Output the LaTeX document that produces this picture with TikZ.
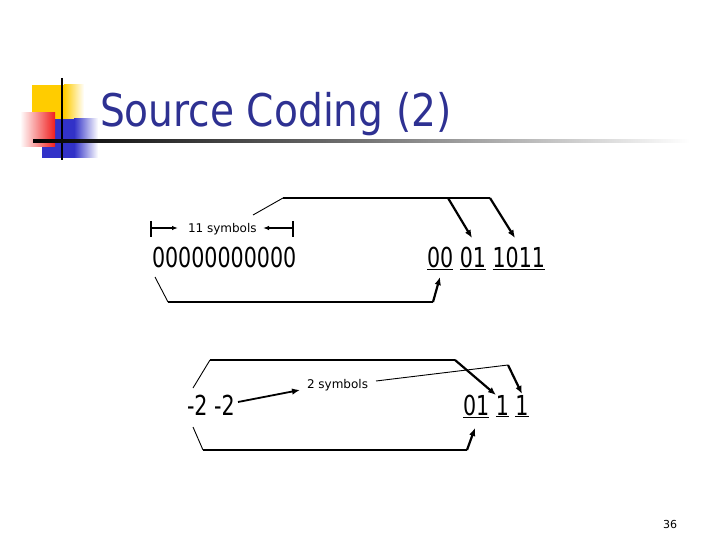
\documentclass[tikz,border=0pt]{standalone}
\usepackage{fontspec}
\setmainfont{DejaVu Sans}
\usetikzlibrary{arrows.meta}
\definecolor{titleblue}{RGB}{46,49,146}
\definecolor{sqyellow}{RGB}{255,204,0}
\definecolor{sqred}{RGB}{240,30,30}
\definecolor{sqblue}{RGB}{50,50,200}
\newcommand{\bigdigits}[1]{\scalebox{0.75}[1]{\fontsize{27.5}{30}\selectfont #1}}
\begin{document}
\begin{tikzpicture}[x=1pt,y=-1pt,
  txt/.style={inner sep=0pt, outer sep=0pt, anchor=base west},
  fineline/.style={line width=0.9pt},
  linkline/.style={line width=1.4pt},
  bigarrow/.style={line width=2.2pt, -{Latex[length=8pt,width=6.5pt]}},
  smallarrow/.style={line width=1.4pt, -{Latex[length=6pt,width=4.5pt]}},
]
\useasboundingbox (0,0) rectangle (720,540);
% --- title decoration ---
\fill[sqyellow] (32,85) rectangle (64,122);
\shade[left color=sqyellow, right color=white] (64,85) rectangle (84,122);
\fill[sqblue] (42,119) rectangle (74,158);
\shade[left color=sqblue, right color=white] (74,119) rectangle (98,158);
\shade[left color=white, right color=sqred] (20,113) rectangle (55,147);
\draw[line width=2pt] (62,78) -- (62,160);
\shade[left color=black, right color=black!55] (33,140) rectangle (360,142.5);
\shade[left color=black!55, right color=white] (360,140) rectangle (690,142.5);
\node[txt, text=titleblue] (title) at (100,127) {\scalebox{0.87}[1]{\fontsize{45}{50}\selectfont Source Coding (2)}};
% --- row 1 ---
\node[txt] (zeros) at (152,267) {\bigdigits{00000000000}};
\node[txt] (code1) at (427,267) {\bigdigits{\underline{00} \underline{01} \underline{1011}}};
\node[txt] (eleven) at (188,233) {\fontsize{12}{14}\selectfont 11 symbols};
\coordinate (lt1) at (151,221); \coordinate (lt2) at (151,237);
\coordinate (rt1) at (293,221); \coordinate (rt2) at (293,237);
\coordinate (la) at (151,228); \coordinate (lb) at (178,228);
\coordinate (ra) at (293,228); \coordinate (rb) at (263,228);
\draw[linkline] (lt1) -- (lt2);
\draw[linkline] (rt1) -- (rt2);
\draw[smallarrow] (la) -- (lb);
\draw[smallarrow] (ra) -- (rb);
\coordinate (a0) at (253,215);
\coordinate (a1) at (283,198);
\coordinate (a2) at (448,198);
\coordinate (a3) at (490,198);
\coordinate (t1) at (472,238);
\coordinate (t2) at (515,238);
\draw[fineline] (a0) -- (a1);
\draw[linkline] (a1) -- (a3);
\draw[bigarrow] (a2) -- (t1);
\draw[bigarrow] (a3) -- (t2);
\coordinate (b0) at (155,277);
\coordinate (b1) at (168,302);
\coordinate (b2) at (433,302);
\coordinate (b3) at (440,277);
\draw[fineline] (b0) -- (b1);
\draw[linkline] (b1) -- (b2);
\draw[bigarrow] (b2) -- (b3);
% --- row 2 ---
\node[txt] (minus) at (187,415) {\bigdigits{-2 -2}};
\node[txt] (code2) at (463,415) {\bigdigits{\underline{01} \underline{1} \underline{1}}};
\node[txt] (two) at (307,388) {\fontsize{12}{14}\selectfont 2 symbols};
\coordinate (m0) at (238,402);
\coordinate (m1) at (300,390);
\draw[bigarrow, line width=1.8pt] (m0) -- (m1);
\coordinate (c0) at (193,388);
\coordinate (c1) at (210,360);
\coordinate (c2) at (455,360);
\coordinate (u1) at (496,395);
\draw[fineline] (c0) -- (c1);
\draw[linkline] (c1) -- (c2);
\draw[bigarrow] (c2) -- (u1);
\coordinate (d0) at (376,381);
\coordinate (d1) at (508,365);
\coordinate (u2) at (522,394);
\draw[fineline] (d0) -- (d1);
\draw[bigarrow] (d1) -- (u2);
\coordinate (e0) at (193,427);
\coordinate (e1) at (203,450);
\coordinate (e2) at (467,450);
\coordinate (e3) at (475,428);
\draw[fineline] (e0) -- (e1);
\draw[linkline] (e1) -- (e2);
\draw[bigarrow] (e2) -- (e3);
% --- page number ---
\node[txt] (page) at (663,528) {\fontsize{11}{13}\selectfont 36};
\end{tikzpicture}
\end{document}
